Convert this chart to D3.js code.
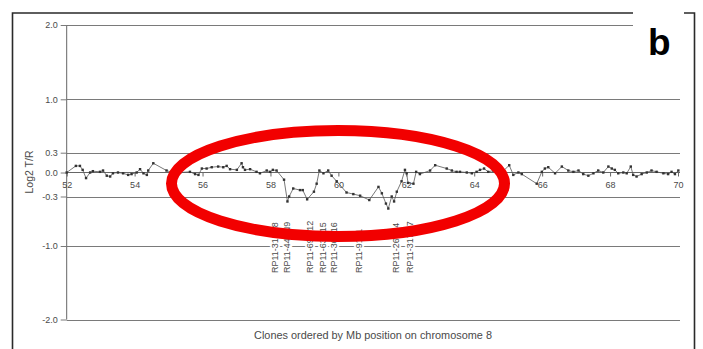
<!DOCTYPE html>
<html>
<head>
<meta charset="utf-8">
<script src="https://cdn.jsdelivr.net/npm/d3@7/dist/d3.min.js"></script>
<style>
  html, body { margin: 0; padding: 0; background: #fff; }
  svg { display: block; font-family: "Liberation Sans", Arial, sans-serif; }
</style>
</head>
<body>
<svg id="chart" width="703" height="349"></svg>
<script>
// ---- Data ----
const positionsMb = [
  52.00, 52.27, 52.39, 52.47, 52.57, 52.69, 52.77, 52.98, 53.07, 53.18,
  53.28, 53.36, 53.51, 53.66, 53.81, 53.91, 54.06, 54.16, 54.26, 54.36,
  54.40, 54.55, 54.94, 55.10, 55.34, 55.63, 55.78, 55.88, 55.98, 56.12,
  56.27, 56.46, 56.61, 56.71, 56.81, 57.01, 57.15, 57.19, 57.25, 57.40,
  57.59, 57.69, 57.89, 57.99, 58.07, 58.18, 58.40, 58.50, 58.55, 58.67,
  58.87, 58.95, 59.08, 59.28, 59.36, 59.44, 59.56, 59.70, 59.80, 59.95,
  60.24, 60.44, 60.64, 60.91, 61.18, 61.28, 61.40, 61.47, 61.57, 61.64,
  61.72, 61.86, 61.96, 62.01, 62.05, 62.21, 62.29, 62.40, 62.70, 62.85,
  63.19, 63.34, 63.48, 63.58, 63.78, 63.93, 64.07, 64.17, 64.29, 64.41,
  64.56, 64.66, 64.85, 65.03, 65.15, 65.30, 65.40, 65.84, 65.99, 66.08,
  66.18, 66.38, 66.58, 66.77, 66.92, 67.07, 67.21, 67.36, 67.51, 67.65,
  67.80, 67.95, 68.05, 68.14, 68.24, 68.39, 68.49, 68.61, 68.68, 68.78,
  68.93, 69.08, 69.22, 69.37, 69.57, 69.71, 69.81, 69.91, 70.01
];
const log2Ratios = [
   0.00,  0.10,  0.10,  0.04, -0.07,  0.00,  0.02,  0.01,  0.03, -0.04,
  -0.05, -0.01,  0.00, -0.01, -0.03, -0.02,  0.00,  0.05, -0.01, -0.03,
   0.03,  0.14,  0.03,  0.00,  0.00,  0.01, -0.02, -0.03,  0.06,  0.06,
   0.08,  0.09,  0.08,  0.10,  0.05,  0.04,  0.14,  0.08,  0.04,  0.05,
   0.01, -0.01,  0.03,  0.01,  0.04,  0.03, -0.09, -0.37, -0.30, -0.20,
  -0.22, -0.22, -0.34, -0.24, -0.14,  0.03, -0.01,  0.03, -0.04, -0.11,
  -0.25, -0.27, -0.29, -0.35, -0.18, -0.26, -0.40, -0.47, -0.30, -0.37,
  -0.24, -0.11,  0.04, -0.01, -0.13, -0.14,  0.01, -0.02,  0.03,  0.11,
   0.06,  0.03,  0.01,  0.01,  0.00, -0.01,  0.01,  0.04,  0.06,  0.01,
   0.03,  0.01,  0.02,  0.11, -0.03,  0.00, -0.02, -0.14,  0.01,  0.06,
   0.08, -0.01,  0.09,  0.03,  0.01,  0.03, -0.02, -0.04, -0.01,  0.03,
   0.00,  0.09,  0.06,  0.04, -0.01,  0.00, -0.01,  0.09, -0.03, -0.05,
  -0.02,  0.00,  0.03,  0.01, -0.01, -0.02,  0.01, -0.02,  0.03
];
const xTickValues = [52, 54, 56, 58, 60, 62, 64, 66, 68, 70];
const xTickLabels = ["52", "54", "56", "58", "60", "62", "64", "66", "68", "70"];
const yTickValues = [-2, -1, -0.3, 0, 0.3, 1, 2];
const yTickLabels = ["-2.0", "-1.0", "-0.3", "0.0", "0.3", "1.0", "2.0"];
const gridValues = [2, 1, 0.3, -0.3, -1, -2];
const cloneNames = ["RP11-310E8", "RP11-440N9", "RP11-69M12", "RP11-63P15", "RP11-36B16",
                    "RP11-91J1", "RP11-265F4", "RP11-317G7"];
const clonePositionsMb = [58.13, 58.49, 59.16, 59.55, 59.87, 60.61, 61.70, 62.11];
const yAxisTitle = "Log2 T/R";
const xAxisTitle = "Clones ordered by Mb position on chromosome 8";
const panelLetter = "b";

// ---- Scales ----
const svg = d3.select("#chart");
const x = d3.scaleLinear().domain([52, 70]).range([66.7, 678]);
const y = d3.scaleLinear()
  .domain([-2, -1, -0.3, 0, 0.3, 1, 2])
  .range([319.5, 246, 196.5, 172.5, 152.7, 99.3, 25]);

const gridColor = "#7a7a7a";
const textColor = "#4a4a4a";

// ---- Frame ----
svg.append("path")
  .attr("d", "M12.5,349 V13 H633 M684,13 H694.5 V349")
  .attr("fill", "none").attr("stroke", "#2a2a2a").attr("stroke-width", 1.6);

// ---- Gridlines ----
svg.append("g").selectAll("line").data(gridValues).join("line")
  .attr("x1", 66.7)
  .attr("x2", d => d === 2 ? 633 : 680)
  .attr("y1", d => Math.round(y(d)) + 0.5)
  .attr("y2", d => Math.round(y(d)) + 0.5)
  .attr("stroke", gridColor).attr("stroke-width", 1);

// ---- Y axis ----
const yAxis = svg.append("g").attr("transform", "translate(66.7,0)")
  .call(d3.axisLeft(y).tickValues(yTickValues)
    .tickFormat((d, i) => yTickLabels[i]).tickSize(6).tickPadding(3));
yAxis.select(".domain").attr("stroke", "#666").attr("d", `M0,${y(2)}V${y(-2)}`);
yAxis.selectAll(".tick line").attr("stroke", gridColor);
yAxis.selectAll(".tick text").attr("fill", textColor).attr("font-size", 9)
  .attr("font-family", "Liberation Sans, Arial, sans-serif");

// ---- X axis at y = 0 ----
const xAxis = svg.append("g").attr("transform", `translate(0,${y(0)})`)
  .call(d3.axisBottom(x).tickValues(xTickValues)
    .tickFormat((d, i) => xTickLabels[i]).tickSize(4).tickPadding(5));
xAxis.select(".domain").remove();
xAxis.selectAll(".tick line").attr("stroke", "#666");
xAxis.selectAll(".tick text").attr("fill", textColor).attr("font-size", 9)
  .attr("font-family", "Liberation Sans, Arial, sans-serif");
svg.append("line")
  .attr("x1", 66.7).attr("x2", 680)
  .attr("y1", y(0)).attr("y2", y(0))
  .attr("stroke", "#666").attr("stroke-width", 1);

// ---- Clone labels ----
svg.append("g").selectAll("text").data(cloneNames).join("text")
  .attr("transform", (d, i) => `translate(${x(clonePositionsMb[i]) + 3},273) rotate(-90)`)
  .attr("text-anchor", "start")
  .attr("font-size", 9)
  .attr("fill", textColor)
  .attr("stroke", "#fff").attr("stroke-width", 4).attr("paint-order", "stroke")
  .text(d => d);

// ---- Data line and points ----
const pts = positionsMb.map((p, i) => [p, log2Ratios[i]]);
svg.append("path")
  .datum(pts)
  .attr("d", d3.line().x(d => x(d[0])).y(d => y(d[1])))
  .attr("fill", "none").attr("stroke", "#555").attr("stroke-width", 0.8);
svg.append("g").selectAll("rect").data(pts).join("rect")
  .attr("x", d => x(d[0]) - 1.2).attr("y", d => y(d[1]) - 1.2)
  .attr("width", 2.4).attr("height", 2.4)
  .attr("fill", "#333");

// ---- Axis titles ----
svg.append("text")
  .attr("transform", "translate(33,172) rotate(-90)")
  .attr("text-anchor", "middle")
  .attr("font-size", 10.5).attr("fill", textColor)
  .text(yAxisTitle);
svg.append("text")
  .attr("x", 373).attr("y", 339)
  .attr("text-anchor", "middle")
  .attr("font-size", 10.9).attr("fill", textColor)
  .text(xAxisTitle);

// ---- Panel letter ----
svg.append("text")
  .attr("x", 648).attr("y", 55)
  .attr("font-size", 37).attr("font-weight", "bold").attr("fill", "#000")
  .text(panelLetter);

// ---- Red highlight ellipse ----
svg.append("ellipse")
  .attr("cx", 338).attr("cy", 183.5).attr("rx", 166.5).attr("ry", 53)
  .attr("fill", "none").attr("stroke", "#f20000").attr("stroke-width", 11);
</script>
</body>
</html>
